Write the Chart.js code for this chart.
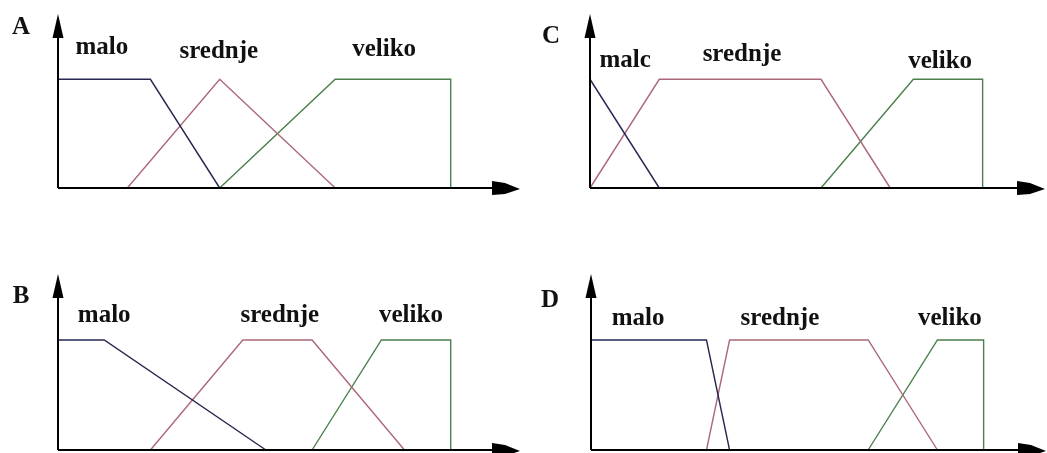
<!DOCTYPE html>
<html>
<head>
<meta charset="utf-8">
<script src="https://cdn.jsdelivr.net/npm/chart.js@4/dist/chart.umd.min.js"></script>
<style>
  html, body { margin: 0; padding: 0; background: #fff; }
  #wrap { position: relative; width: 1047px; height: 453px; overflow: hidden; background: #fff; }
  canvas { position: absolute; }
</style>
</head>
<body>
<div id="wrap">
  <canvas id="ch_a" width="523" height="226" style="left:0;top:0"></canvas>
  <canvas id="ch_c" width="524" height="226" style="left:523px;top:0"></canvas>
  <canvas id="ch_b" width="523" height="227" style="left:0;top:226px"></canvas>
  <canvas id="ch_d" width="524" height="227" style="left:523px;top:226px"></canvas>
</div>
<script>
/* membership functions, [x, mu] breakpoints */
const aMalo    = [[0, 1], [2, 1], [3.5, 0]];
const aSrednje = [[1.5, 0], [3.5, 1], [6, 0]];
const aVeliko  = [[3.5, 0], [6, 1], [8.5, 1], [8.5, 0]];

const bMalo    = [[0, 1], [1, 1], [4.5, 0]];
const bSrednje = [[2, 0], [4, 1], [5.5, 1], [7.5, 0]];
const bVeliko  = [[5.5, 0], [7, 1], [8.5, 1], [8.5, 0]];

const cMalo    = [[0, 1], [1.5, 0]];
const cSrednje = [[0, 0], [1.5, 1], [5, 1], [6.5, 0]];
const cVeliko  = [[5, 0], [7, 1], [8.5, 1], [8.5, 0]];

const dMalo    = [[0, 1], [2.5, 1], [3, 0]];
const dSrednje = [[2.5, 0], [3, 1], [6, 1], [7.5, 0]];
const dVeliko  = [[6, 0], [7.5, 1], [8.5, 1], [8.5, 0]];

const setNames  = ['malo', 'srednje', 'veliko'];
const setNamesC = ['malc', 'srednje', 'veliko'];
const panelLetters = ['A', 'B', 'C', 'D'];

const COLORS = { malo: '#262650', srednje: '#ac6878', veliko: '#4b7f4b' };
const FONT = 'bold 25px "Liberation Serif", "DejaVu Serif", serif';

// arrows, axes, panel letter and set names
const decor = {
  id: 'decor',
  afterDatasetsDraw(chart, args, opts) {
    const { ctx, chartArea: ca, scales: { x, y } } = chart;
    const x0 = x.getPixelForValue(0), y0 = y.getPixelForValue(0);
    ctx.save();
    ctx.strokeStyle = '#000';
    ctx.fillStyle = '#000';
    ctx.lineWidth = 2;
    ctx.beginPath();
    ctx.moveTo(x0, y0); ctx.lineTo(x0, ca.top + 10);
    ctx.moveTo(x0, y0); ctx.lineTo(ca.right - 20, y0);
    ctx.stroke();
    // y arrow
    ctx.beginPath();
    ctx.moveTo(x0, ca.top);
    ctx.lineTo(x0 + 5.5, ca.top + 24);
    ctx.lineTo(x0 - 5.5, ca.top + 24);
    ctx.closePath(); ctx.fill();
    // x arrow
    const r = ca.right;
    ctx.beginPath();
    ctx.moveTo(r - 28, y0 - 7);
    ctx.lineTo(r - 15, y0 - 5);
    ctx.lineTo(r, y0 + 1);
    ctx.lineTo(r - 15, y0 + 6);
    ctx.lineTo(r - 28, y0 + 7);
    ctx.closePath(); ctx.fill();

    ctx.font = FONT;
    ctx.fillStyle = '#111';
    ctx.textAlign = 'center';
    ctx.textBaseline = 'alphabetic';
    ctx.fillText(opts.letter, x0 + opts.letterDx, y.getPixelForValue(opts.letterY));
    opts.names.forEach((n, i) => {
      ctx.fillText(n, x.getPixelForValue(opts.nameX[i]), y.getPixelForValue(opts.nameY[i]));
    });
    ctx.restore();
  }
};

function series(points, color) {
  return {
    data: points.map(p => ({ x: p[0], y: p[1] })),
    showLine: true,
    borderColor: color,
    borderWidth: 1.4,
    pointRadius: 0,
    tension: 0,
    clip: false
  };
}

function drawPanel(id, sets, xMax, pad, letterOpts) {
  const canvas = document.getElementById(id);
  return new Chart(canvas.getContext('2d'), {
    type: 'scatter',
    data: {
      datasets: [
        series(sets[0], COLORS.malo),
        series(sets[1], COLORS.srednje),
        series(sets[2], COLORS.veliko)
      ]
    },
    options: {
      responsive: false,
      animation: false,
      devicePixelRatio: 1,
      layout: { padding: pad },
      plugins: { legend: { display: false }, tooltip: { enabled: false }, decor: letterOpts },
      scales: {
        x: { type: 'linear', min: 0, max: xMax, display: false },
        y: { type: 'linear', min: 0, max: 1.6, display: false }
      }
    },
    plugins: [decor]
  });
}

drawPanel('ch_a', [aMalo, aSrednje, aVeliko], 10,
  { left: 58, top: 14, right: 3, bottom: 38 },
  { letter: panelLetters[0], letterDx: -37, letterY: 1.42, names: setNames,
    nameX: [0.95, 3.48, 7.06], nameY: [1.23, 1.20, 1.21] });

drawPanel('ch_b', [bMalo, bSrednje, bVeliko], 10,
  { left: 58, top: 48, right: 3, bottom: 3 },
  { letter: panelLetters[1], letterDx: -37, letterY: 1.34, names: setNames,
    nameX: [1.0, 4.8, 7.64], nameY: [1.16, 1.16, 1.16] });

drawPanel('ch_c', [cMalo, cSrednje, cVeliko], 9.85,
  { left: 67, top: 14, right: 2, bottom: 38 },
  { letter: panelLetters[2], letterDx: -39, letterY: 1.33, names: setNamesC,
    nameX: [0.76, 3.29, 7.58], nameY: [1.11, 1.17, 1.10] });

drawPanel('ch_d', [dMalo, dSrednje, dVeliko], 9.85,
  { left: 68, top: 48, right: 1, bottom: 3 },
  { letter: panelLetters[3], letterDx: -41, letterY: 1.30, names: setNames,
    nameX: [1.02, 4.09, 7.77], nameY: [1.14, 1.14, 1.14] });
</script>
</body>
</html>
